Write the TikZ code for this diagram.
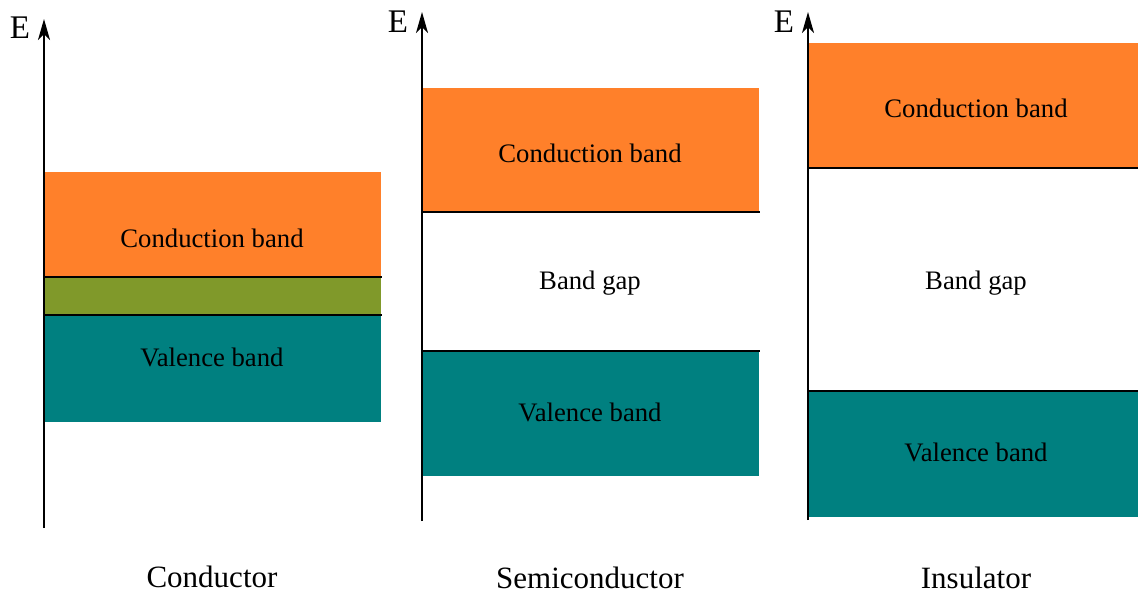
\documentclass[tikz,border=0pt]{standalone}
\usepackage{fontspec}
\setmainfont{Liberation Serif}
\usetikzlibrary{arrows.meta}
\definecolor{cband}{RGB}{255,128,42}
\definecolor{vband}{RGB}{0,128,128}
\definecolor{oband}{RGB}{128,153,42}
\tikzset{
  axis/.style={line width=2pt,-{Stealth[length=21pt,width=12pt,inset=6pt]}},
  edge/.style={line width=2pt},
  lbl/.style={font=\fontsize{26.7}{30}\selectfont,inner sep=0pt},
  captext/.style={font=\fontsize{31}{34}\selectfont,inner sep=0pt},
  elbl/.style={font=\fontsize{33}{36}\selectfont,inner sep=0pt}
}
\begin{document}
\begin{tikzpicture}[x=1pt,y=-1pt]
\useasboundingbox (0,0) rectangle (1138,595);
% Conductor
\fill[cband] (44,172) rectangle (381,277);
\fill[oband] (44,277) rectangle (381,315);
\fill[vband] (44,315) rectangle (381,422);
\coordinate (l1a) at (44,277); \coordinate (l1b) at (382,277);
\coordinate (l2a) at (44,315); \coordinate (l2b) at (382,315);
\draw[edge] (l1a) -- (l1b);
\draw[edge] (l2a) -- (l2b);
\coordinate (ax1b) at (44,528); \coordinate (ax1t) at (44,19);
\draw[axis] (ax1b) -- (ax1t);
\node[elbl] (e1) at (20,28) {E};
\node[lbl] (cb1) at (212,238) {Conduction band};
\node[lbl] (vb1) at (212,357) {Valence band};
\node[captext] (t1) at (212,577) {Conductor};
% Semiconductor
\fill[cband] (422,88) rectangle (759,212);
\fill[vband] (422,351) rectangle (759,476);
\coordinate (l3a) at (422,212); \coordinate (l3b) at (760,212);
\coordinate (l4a) at (422,351); \coordinate (l4b) at (760,351);
\draw[edge] (l3a) -- (l3b);
\draw[edge] (l4a) -- (l4b);
\coordinate (ax2b) at (422,521); \coordinate (ax2t) at (422,12);
\draw[axis] (ax2b) -- (ax2t);
\node[elbl] (e2) at (398,22) {E};
\node[lbl] (cb2) at (590,153) {Conduction band};
\node[lbl] (bg2) at (590,283) {Band gap};
\node[lbl] (vb2) at (590,412) {Valence band};
\node[captext] (t2) at (590,578) {Semiconductor};
% Insulator
\fill[cband] (808,43) rectangle (1138,168);
\fill[vband] (808,391) rectangle (1138,517);
\coordinate (l5a) at (808,168); \coordinate (l5b) at (1138,168);
\coordinate (l6a) at (808,391); \coordinate (l6b) at (1138,391);
\draw[edge] (l5a) -- (l5b);
\draw[edge] (l6a) -- (l6b);
\coordinate (ax3b) at (808,520); \coordinate (ax3t) at (808,12);
\draw[axis] (ax3b) -- (ax3t);
\node[elbl] (e3) at (784,22) {E};
\node[lbl] (cb3) at (976,108) {Conduction band};
\node[lbl] (bg3) at (976,283) {Band gap};
\node[lbl] (vb3) at (976,452) {Valence band};
\node[captext] (t3) at (976,578) {Insulator};
\end{tikzpicture}
\end{document}
